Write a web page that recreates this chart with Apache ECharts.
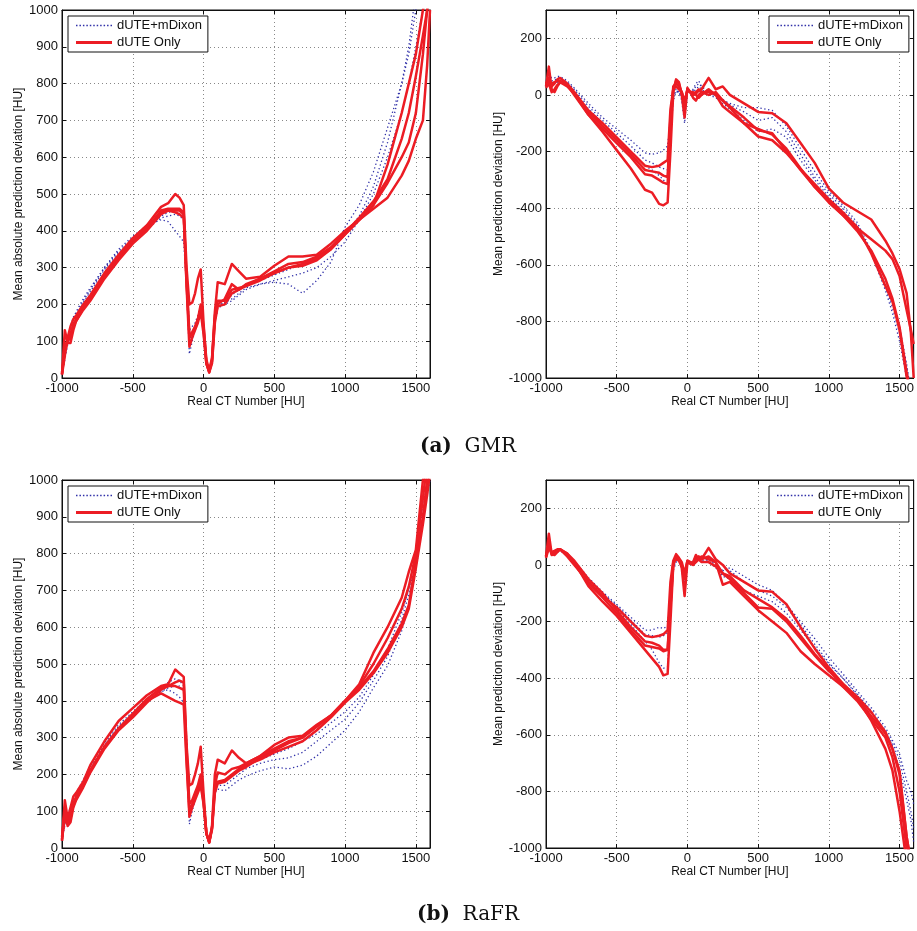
<!DOCTYPE html>
<html><head><meta charset="utf-8">
<script src="https://cdn.jsdelivr.net/npm/echarts@6/dist/echarts.min.js"></script>
<style>html,body{margin:0;padding:0;background:#fff}#c{width:917px;height:931px}</style>
</head><body><div id="c"></div>
<script>
// Shared CT-number sample positions [HU]
const xs = [-1000,-980,-960,-940,-920,-900,
  -850,-800,-700,-600,-500,-400,-300,
  -250,-200,-170,-140,-120,-100,
  -80,-60,-40,-20,0,20,40,60,80,100,
  150,200,250,300,400,500,600,700,800,900,1000,
  1100,1200,1300,1400,1450,1500,1550,1580,1600];

const xTicks = [-1000,-500,0,500,1000,1500];
const absTicks = [0,100,200,300,400,500,600,700,800,900,1000];
const meanTicks = [-1000,-800,-600,-400,-200,0,200];

// (a) GMR - mean absolute prediction deviation
const gmrAbsRed1 = [10,60,110,140,160,170, 200,225,285,335,380,415,465, 475,500,490,470,300,200, 205,230,270,295,150,40,15,50,180,260, 255,310,290,270,275,305,330,330,335,365,400, 430,470,580,720,800,880,1000,1050,1050];
const gmrAbsRed2 = [10,130,95,95,130,155, 190,215,275,325,370,405,455, 460,460,460,450,250,85, 110,130,150,180,120,40,15,40,150,195, 200,230,240,255,270,290,310,315,330,355,395, 435,480,540,650,720,820,930,1000,1050];
const gmrAbsRed3 = [15,70,100,120,145,160, 195,220,280,330,375,410,450, 455,450,445,435,260,110, 125,140,160,190,130,40,18,45,160,200, 215,255,240,250,265,285,300,305,320,350,390, 430,460,490,550,590,650,700,850,1000];
const gmrAbsRed4 = [10,90,100,110,140,155, 185,210,270,320,365,400,445, 455,455,455,445,270,120, 115,135,160,200,140,50,20,55,170,210, 210,240,245,250,270,285,300,310,325,350,390, 430,470,530,600,640,720,880,1000,1050];
const gmrAbsBlue1 = [20,60,100,130,160,175, 210,240,300,350,385,415,430, 425,400,385,370,250,65, 100,130,150,180,130,40,20,50,150,190, 200,210,225,240,255,260,255,230,265,315,410, 470,560,680,800,880,1000,1050,1050,1050];
const gmrAbsBlue2 = [20,70,110,140,165,180, 215,245,300,345,380,410,440, 450,455,455,440,300,130, 140,150,170,200,140,40,20,50,150,190, 210,225,240,255,265,280,295,310,325,350,390, 440,520,640,800,900,1050,1050,1050,1050];
const gmrAbsBlue3 = [15,50,90,120,150,165, 205,235,295,340,375,405,435, 440,445,440,430,280,100, 120,140,160,190,130,40,20,50,150,195, 205,215,230,245,255,265,275,285,300,330,370, 430,500,600,720,800,900,1000,1050,1050];

// (a) GMR - mean prediction deviation
const gmrMeanRed1 = [30,100,20,10,30,45, 30,5,-70,-130,-195,-260,-335, -345,-385,-390,-380,-200,10, 55,45,0,-80,25,10,5,10,20,10, 10,5,-20,-45,-100,-147,-160,-205,-262,-315,-368, -415,-467,-560,-675,-730,-830,-995,-1050,-1050];
const gmrMeanRed2 = [40,60,30,40,55,60, 40,10,-55,-100,-150,-200,-250, -255,-250,-240,-230,-50,20, 30,20,10,-30,20,10,0,5,15,20, 60,20,30,0,-30,-60,-65,-100,-170,-240,-330, -380,-410,-440,-515,-560,-615,-700,-840,-1000];
const gmrMeanRed3 = [40,50,40,45,50,50, 35,0,-70,-120,-170,-220,-280, -285,-300,-310,-315,-100,30, 40,30,10,-20,15,10,10,0,-10,0, 20,0,-40,-60,-100,-120,-140,-190,-260,-325,-380, -425,-470,-510,-550,-580,-640,-760,-830,-880];
const gmrMeanRed4 = [25,40,10,20,35,45, 35,5,-60,-110,-160,-210,-265, -270,-275,-285,-290,-80,20, 50,40,5,-40,20,10,-10,-20,0,10, 0,10,-20,-40,-80,-125,-135,-200,-265,-325,-375, -425,-480,-550,-650,-720,-820,-980,-1050,-1050];
const gmrMeanBlue1 = [40,70,60,60,65,65, 50,25,-30,-80,-120,-160,-205, -210,-205,-195,-180,-80,0, 20,10,-20,-100,10,10,20,40,50,30, 10,-5,-20,-30,-45,-45,-55,-110,-190,-270,-340, -390,-450,-550,-670,-740,-820,-950,-1050,-1050];
const gmrMeanBlue2 = [30,50,40,40,45,50, 40,15,-50,-100,-150,-200,-250, -265,-285,-300,-320,-150,-20, 10,10,-10,-60,10,10,10,20,30,20, 0,-10,-30,-50,-90,-130,-120,-150,-230,-300,-360, -410,-470,-560,-680,-750,-840,-960,-1050,-1050];
const gmrMeanBlue3 = [50,60,50,50,60,60, 45,20,-40,-90,-135,-180,-230, -240,-255,-260,-265,-120,-10, 15,10,-10,-80,5,10,15,30,40,30, 10,0,-15,-35,-60,-90,-80,-130,-210,-290,-350, -400,-460,-560,-690,-770,-870,-1000,-1050,-1050];

// (b) RaFR - mean absolute prediction deviation
const rafrAbsRed1 = [20,130,80,110,140,150, 180,225,290,345,380,415,440, 445,485,475,465,280,170, 175,200,230,275,150,40,15,60,200,240, 230,265,245,230,250,280,300,305,335,360,400, 445,530,600,680,750,810,1000,1050,1050];
const rafrAbsRed2 = [30,100,60,70,110,130, 165,205,270,320,355,395,430, 440,440,435,430,250,85, 110,130,150,170,120,40,15,50,150,175, 180,195,210,220,245,265,285,300,330,360,400, 435,480,540,610,660,780,900,1000,1050];
const rafrAbsRed3 = [25,80,65,80,115,135, 170,210,275,325,360,400,420, 410,400,395,390,230,100, 120,140,160,180,125,40,18,55,160,180, 185,200,215,225,240,260,275,290,320,355,395, 430,475,530,600,650,760,880,960,1020];
const rafrAbsRed4 = [20,110,70,90,120,140, 170,210,275,325,365,405,435, 440,450,455,450,270,120, 130,150,170,200,130,40,15,55,170,205, 200,215,220,230,250,270,290,300,330,360,400, 440,500,570,650,710,800,950,1050,1050];
const rafrAbsBlue1 = [25,60,80,100,125,140, 180,220,280,330,365,400,425, 430,420,410,395,260,65, 100,130,160,190,130,40,20,55,150,160, 155,170,185,195,210,220,215,225,250,285,320, 370,435,495,590,660,755,890,960,1000];
const rafrAbsBlue2 = [30,70,90,110,130,150, 185,225,285,335,370,405,435, 450,460,455,440,300,110, 120,140,160,190,130,40,20,50,150,175, 180,195,210,225,240,255,270,290,310,340,370, 410,470,540,640,700,800,920,1000,1050];
const rafrAbsBlue3 = [20,70,75,95,120,140, 175,215,275,325,360,400,425, 435,440,440,430,280,90, 110,135,155,185,125,40,20,50,150,170, 170,185,200,215,230,240,245,260,290,320,350, 395,455,520,620,690,780,900,980,1050];

// (b) RaFR - mean prediction deviation
const rafrMeanRed1 = [30,110,40,35,45,55, 35,10,-75,-130,-180,-240,-300, -330,-360,-390,-385,-200,0, 30,20,-10,-110,10,5,0,10,20,30, 20,10,-70,-60,-110,-160,-200,-240,-305,-350,-390, -430,-470,-550,-650,-727,-870,-1050,-1050,-1050];
const rafrMeanRed2 = [30,80,40,45,50,55, 30,0,-60,-110,-150,-200,-250, -255,-250,-245,-230,-60,15, 38,25,10,-30,15,10,5,30,20,20, 60,20,0,-30,-60,-90,-95,-139,-220,-295,-362, -420,-470,-535,-595,-650,-727,-960,-1050,-1050];
const rafrMeanRed3 = [25,60,45,50,55,55, 40,15,-50,-100,-160,-220,-270, -275,-285,-300,-300,-120,10, 20,15,0,-40,15,10,0,20,30,20, 30,10,-30,-50,-100,-150,-155,-200,-260,-320,-375, -420,-465,-520,-590,-650,-740,-960,-1050,-1050];
const rafrMeanRed4 = [30,70,35,40,50,55, 40,5,-65,-115,-170,-230,-285, -290,-295,-305,-300,-150,0, 30,20,-5,-50,10,5,10,35,20,10, 10,-5,-30,-40,-90,-120,-150,-190,-250,-315,-370, -430,-480,-545,-610,-680,-800,-1000,-1050,-1050];
const rafrMeanBlue1 = [40,60,40,45,50,55, 40,15,-45,-95,-140,-185,-230, -230,-220,-225,-215,-100,0, 20,15,0,-40,10,10,10,30,30,20, 20,0,-20,-10,-40,-70,-90,-140,-200,-260,-327, -385,-445,-504,-574,-620,-668,-762,-800,-845];
const rafrMeanBlue2 = [35,50,40,40,45,50, 35,10,-55,-105,-155,-210,-270, -300,-345,-365,-360,-180,-20, 10,10,-10,-110,10,10,10,20,20,10, 10,-10,-40,-50,-90,-110,-130,-170,-230,-290,-350, -400,-460,-520,-590,-630,-690,-800,-870,-930];
const rafrMeanBlue3 = [30,55,45,50,55,55, 40,15,-50,-100,-145,-195,-245, -250,-255,-250,-240,-100,-10, 15,10,0,-60,10,10,15,25,25,15, 15,-5,-20,-20,-60,-90,-110,-150,-210,-280,-345, -400,-455,-515,-585,-640,-720,-830,-900,-980];

const panels = [
  {red:[gmrAbsRed1,gmrAbsRed2,gmrAbsRed3,gmrAbsRed4], blue:[gmrAbsBlue1,gmrAbsBlue2,gmrAbsBlue3], left:62, top:10, abs:true},
  {red:[gmrMeanRed1,gmrMeanRed2,gmrMeanRed3,gmrMeanRed4], blue:[gmrMeanBlue1,gmrMeanBlue2,gmrMeanBlue3], left:546, top:10, abs:false},
  {red:[rafrAbsRed1,rafrAbsRed2,rafrAbsRed3,rafrAbsRed4], blue:[rafrAbsBlue1,rafrAbsBlue2,rafrAbsBlue3], left:62, top:480, abs:true},
  {red:[rafrMeanRed1,rafrMeanRed2,rafrMeanRed3,rafrMeanRed4], blue:[rafrMeanBlue1,rafrMeanBlue2,rafrMeanBlue3], left:546, top:480, abs:false}
];

const SANS = 'Liberation Sans, Arial, Helvetica, sans-serif';
const W = 368, H = 368;
const BLUE = '#3030a8', RED = '#ec1c24';
const grids = [], xAxes = [], yAxes = [], series = [], legends = [];

// dotted legend icon path (36 x 1.5 units)
let dotPath = 'path://';
for (let k = 0; k < 11; k++) { const x0 = (k * 3.45).toFixed(2); dotPath += `M${x0},0h1.5v1.5h-1.5z `; }

panels.forEach((p, i) => {
  grids.push({left:p.left, top:p.top, width:W, height:H, show:true, borderColor:'#111', borderWidth:1, backgroundColor:'#fff', containLabel:false});
  const yMin = p.abs ? 0 : -1000, yMax = p.abs ? 1000 : 300, yInt = p.abs ? 100 : 200;
  xAxes.push({type:'value', gridIndex:i, min:-1000, max:1600, interval:500, position:'bottom',
    name:'Real CT Number [HU]', nameLocation:'middle', nameGap:13,
    nameTextStyle:{fontFamily:SANS, fontSize:12, color:'#111'},
    axisLine:{show:true, onZero:false, lineStyle:{color:'#111'}},
    axisTick:{show:true, inside:true, length:4, lineStyle:{color:'#111'}},
    axisLabel:{fontFamily:SANS, fontSize:13, color:'#111', margin:4, showMaxLabel:false,
      formatter:v => xTicks.includes(v) ? String(v) : ''},
    splitLine:{show:true, lineStyle:{color:'#888', width:1, type:[1,3]}}});
  xAxes.push({type:'value', gridIndex:i, min:-1000, max:1600, interval:500, position:'top',
    axisLine:{show:true, onZero:false, lineStyle:{color:'#111'}},
    axisTick:{show:true, inside:true, length:4, lineStyle:{color:'#111'}},
    axisLabel:{show:false}, splitLine:{show:false}});
  const ticks = p.abs ? absTicks : meanTicks;
  yAxes.push({type:'value', gridIndex:i, min:yMin, max:yMax, interval:yInt, position:'left',
    name: p.abs ? 'Mean absolute prediction deviation [HU]' : 'Mean prediction deviation [HU]',
    nameLocation:'middle', nameGap: p.abs ? 37 : 41,
    nameTextStyle:{fontFamily:SANS, fontSize:12, color:'#111'},
    axisLine:{show:true, onZero:false, lineStyle:{color:'#111'}},
    axisTick:{show:true, inside:true, length:4, lineStyle:{color:'#111'}},
    axisLabel:{fontFamily:SANS, fontSize:13, color:'#111', margin:4, showMaxLabel: p.abs,
      formatter:v => ticks.includes(v) ? String(v) : ''},
    splitLine:{show:true, lineStyle:{color:'#888', width:1, type:[1,3]}}});
  yAxes.push({type:'value', gridIndex:i, min:yMin, max:yMax, interval:yInt, position:'right',
    axisLine:{show:true, onZero:false, lineStyle:{color:'#111'}},
    axisTick:{show:true, inside:true, length:4, lineStyle:{color:'#111'}},
    axisLabel:{show:false}, splitLine:{show:false}});
  const xi = 2*i, yi = 2*i;
  p.blue.forEach(arr => series.push({type:'line', name:'dUTE+mDixon', xAxisIndex:xi, yAxisIndex:yi,
    data: xs.map((x,k) => [x, arr[k]]), symbol:'none', clip:true, silent:true, emphasis:{disabled:true},
    lineStyle:{color:BLUE, width:1.3, type:[1.3,2.6]}, itemStyle:{color:BLUE}, z:2}));
  p.red.forEach(arr => series.push({type:'line', name:'dUTE Only', xAxisIndex:xi, yAxisIndex:yi,
    data: xs.map((x,k) => [x, arr[k]]), symbol:'none', clip:true, silent:true, emphasis:{disabled:true},
    lineStyle:{color:RED, width:2.5, join:'round'}, itemStyle:{color:RED}, z:3}));
  const legLeft = p.abs ? p.left + 6 : p.left + W - 6 - 139;
  legends.push({orient:'vertical', left:legLeft, top:p.top + 6, backgroundColor:'#fff',
    borderColor:'#111', borderWidth:1, padding:[3,6,3,8], itemGap:4, itemWidth:36, itemHeight:3,
    symbolKeepAspect:true, selectedMode:false, textStyle:{fontFamily:SANS, fontSize:13, color:'#111'},
    data:[{name:'dUTE+mDixon', icon:dotPath, itemStyle:{color:BLUE}},
          {name:'dUTE Only', icon:'rect', itemStyle:{color:RED}}]});
});

const SERIF = 'DejaVu Serif, Liberation Serif, serif';
const chart = echarts.init(document.getElementById('c'), null, {renderer:'canvas'});
chart.setOption({
  animation:false,
  backgroundColor:'#fff',
  grid:grids, xAxis:xAxes, yAxis:yAxes, series:series, legend:legends,
  title:[
    {text:'{b|(a)}  GMR', left:463, top:432, textAlign:'center',
      textStyle:{fontFamily:SERIF, fontSize:20, fontWeight:'normal', color:'#111', rich:{b:{fontFamily:SERIF, fontSize:20, fontWeight:'bold', color:'#111'}}}},
    {text:'{b|(b)}  RaFR', left:463, top:900, textAlign:'center',
      textStyle:{fontFamily:SERIF, fontSize:20, fontWeight:'normal', color:'#111', rich:{b:{fontFamily:SERIF, fontSize:20, fontWeight:'bold', color:'#111'}}}}
  ]
});
</script></body></html>
